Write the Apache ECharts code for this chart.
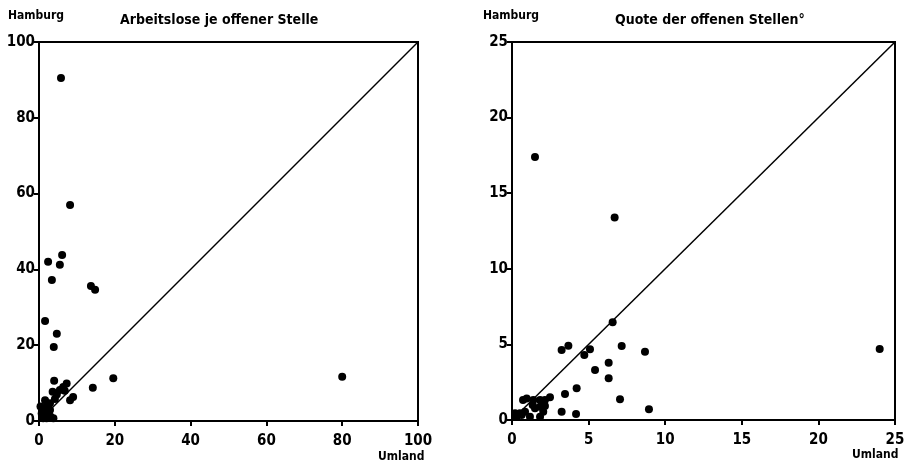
<!DOCTYPE html>
<html>
<head>
<meta charset="utf-8">
<script src="https://cdn.jsdelivr.net/npm/echarts@6/dist/echarts.min.js"></script>
<style>html,body{margin:0;padding:0;background:#fff;}#c{width:911px;height:466px;}</style>
</head>
<body>
<div id="c"></div>
<script>
// Left panel: Arbeitslose je offener Stelle (Umland x, Hamburg y)
const leftX = [5.8, 8.2, 2.4, 6.1, 5.5, 3.4, 13.7, 14.8, 1.6, 4.7, 3.9, 80.0, 19.6, 14.2, 4.0, 7.3, 6.4, 3.6, 4.7, 9.0, 8.2, 2.9, 1.6, 1.1, 0.7, 2.5, 2.0, 3.8, 1.1, 2.9, 0.4, 1.5, 3.0, 5.5, 6.8, 4.2, 2.2, 0.8];
const leftY = [90.5, 57.0, 42.0, 43.8, 41.2, 37.2, 35.6, 34.6, 26.4, 23.0, 19.5, 11.7, 11.3, 8.8, 10.6, 9.9, 9.0, 7.7, 7.0, 6.3, 5.5, 4.7, 5.5, 3.3, 2.0, 1.6, 0.7, 0.7, 0.7, 2.9, 3.8, 2.4, 1.2, 8.2, 8.0, 5.8, 4.0, 1.2];
// Right panel: Quote der offenen Stellen
const rightX = [1.5, 6.7, 24.0, 6.57, 3.24, 3.68, 5.09, 4.72, 7.16, 8.68, 5.42, 6.31, 6.31, 7.05, 4.22, 3.46, 3.24, 4.18, 8.94, 2.48, 0.96, 1.83, 1.5, 0.52, 0.3, 2.04, 1.17, 1.83, 0.85, 1.35, 2.15, 0.72, 1.39, 1.83, 2.15, 0.2, 0.63];
const rightY = [17.4, 13.4, 4.7, 6.46, 4.63, 4.91, 4.68, 4.30, 4.89, 4.52, 3.31, 3.79, 2.76, 1.37, 2.10, 1.72, 0.55, 0.40, 0.71, 1.50, 1.43, 1.32, 0.77, 0.44, 0.22, 0.55, 0.22, 0.22, 0.55, 0.99, 0.93, 1.32, 1.32, 0.88, 1.32, 0.44, 0.33];
const leftTicks = [0, 20, 40, 60, 80, 100];
const rightTicks = [0, 5, 10, 15, 20, 25];
const diagLeft = [[0, 0], [100, 100]];
const diagRight = [[0, 0], [25, 25]];

const FONT = '"DejaVu Sans Condensed", "DejaVu Sans", sans-serif';
const chart = echarts.init(document.getElementById('c'), null, {renderer: 'canvas'});

function axis(type, idx, ticks) {
  return {
    type: 'value', gridIndex: idx, min: ticks[0], max: ticks[ticks.length - 1], interval: ticks[1] - ticks[0],
    splitLine: {show: false},
    axisLine: {show: true, onZero: false, lineStyle: {color: '#000', width: 2}},
    axisTick: {show: true, inside: false, length: 5, lineStyle: {color: '#000', width: 2}},
    axisLabel: {color: '#000', fontFamily: FONT, fontWeight: 'bold', fontSize: 15, margin: type === 'x' ? 13 : 4}
  };
}

const pts = (xs, ys) => xs.map((x, i) => [x, ys[i]]);

chart.setOption({
  animation: false,
  backgroundColor: '#fff',
  grid: [
    {left: 39, top: 42, width: 379, height: 379, show: true, borderColor: '#000', borderWidth: 2, backgroundColor: 'transparent'},
    {left: 512, top: 42, width: 383, height: 378, show: true, borderColor: '#000', borderWidth: 2, backgroundColor: 'transparent'}
  ],
  xAxis: [axis('x', 0, leftTicks), axis('x', 1, rightTicks)],
  yAxis: [axis('y', 0, leftTicks), axis('y', 1, rightTicks)],
  series: [
    {type: 'line', xAxisIndex: 0, yAxisIndex: 0, data: diagLeft, symbol: 'none', lineStyle: {color: '#000', width: 1.5}},
    {type: 'line', xAxisIndex: 1, yAxisIndex: 1, data: diagRight, symbol: 'none', lineStyle: {color: '#000', width: 1.5}},
    {type: 'scatter', xAxisIndex: 0, yAxisIndex: 0, data: pts(leftX, leftY), symbol: 'circle', symbolSize: 8, itemStyle: {color: '#000', opacity: 1}},
    {type: 'scatter', xAxisIndex: 1, yAxisIndex: 1, data: pts(rightX, rightY), symbol: 'circle', symbolSize: 8, itemStyle: {color: '#000', opacity: 1}}
  ],
  graphic: [
    {type: 'text', left: 8, top: 10, style: {text: 'Hamburg', font: 'bold 12px ' + FONT, fill: '#000'}},
    {type: 'text', left: 120, top: 13, style: {text: 'Arbeitslose je offener Stelle', font: 'bold 14px ' + FONT, fill: '#000'}},
    {type: 'text', left: 378, top: 451, style: {text: 'Umland', font: 'bold 12px ' + FONT, fill: '#000'}},
    {type: 'text', left: 483, top: 10, style: {text: 'Hamburg', font: 'bold 12px ' + FONT, fill: '#000'}},
    {type: 'text', left: 615, top: 13, style: {text: 'Quote der offenen Stellen°', font: 'bold 14px ' + FONT, fill: '#000'}},
    {type: 'text', left: 852, top: 449, style: {text: 'Umland', font: 'bold 12px ' + FONT, fill: '#000'}}
  ]
});
</script>
</body>
</html>
